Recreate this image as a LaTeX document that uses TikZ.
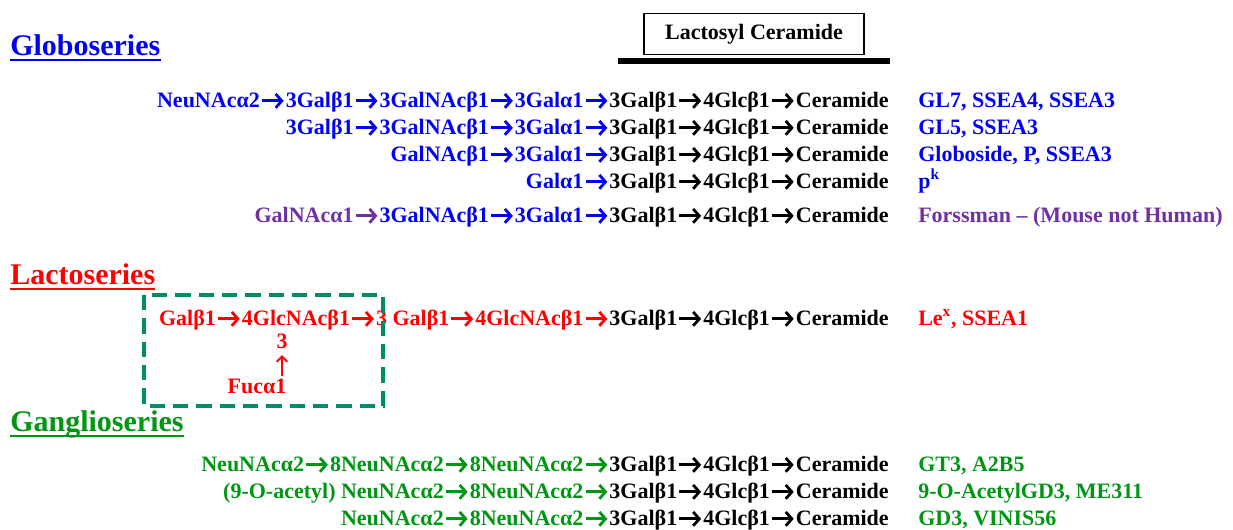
\documentclass[tikz,border=0pt]{standalone}
\usepackage{fontspec}
\setmainfont{Liberation Serif}
\usetikzlibrary{arrows.meta}
\definecolor{gblue}{RGB}{0,0,245}
\definecolor{gpurple}{RGB}{112,48,160}
\definecolor{gred}{RGB}{255,0,0}
\definecolor{ggreen}{RGB}{0,150,20}
\definecolor{gteal}{RGB}{0,140,105}
\newcommand{\ra}{\tikz[baseline=0pt]{\path[use as bounding box] (0pt,0pt) rectangle (19.5pt,1pt);
  \draw[line width=2.1pt, -{Straight Barb[length=4.6pt,width=10.4pt,line width=2.1pt]}] (1.6pt,4.6pt) -- (17.9pt,4.6pt);}}
\tikzset{
  chain/.style={anchor=base east, inner sep=0pt, font=\fontsize{16.5}{18}\selectfont\bfseries},
  lab/.style={anchor=base west, inner sep=0pt, font=\fontsize{16.5}{18}\selectfont\bfseries},
  head/.style={anchor=base west, inner sep=0pt, font=\fontsize{22.5}{24}\selectfont\bfseries},
  uline/.style={line width=1.6pt},
  dashbox/.style={draw=gteal, line width=2.7pt, dash pattern=on 11.5pt off 6pt}
}
\begin{document}
\begin{tikzpicture}[x=0.75pt,y=-0.75pt]
\useasboundingbox (0,0) rectangle (1233,529);
% Lactosyl ceramide box
\node[draw=black, line width=1.2pt, minimum width=165pt, minimum height=31pt, inner sep=0pt,
      font=\fontsize{16.5}{18}\selectfont\bfseries] (lac) at (754,34) {Lactosyl Ceramide};
\coordinate (barL) at (618,61);
\coordinate (barR) at (890,61);
\draw[line width=4pt] (barL) -- (barR);

% Headers
\node[head, text=gblue] (hglobo) at (10,55) {Globoseries};
\draw[uline, gblue] ([yshift=-3.5pt]hglobo.base west) -- ([yshift=-3.5pt]hglobo.base east);
\node[head, text=gred] (hlacto) at (10,284) {Lactoseries};
\draw[uline, gred] ([yshift=-3.5pt]hlacto.base west) -- ([yshift=-3.5pt]hlacto.base east);
\node[head, text=ggreen] (hgang) at (10,431) {Ganglioseries};
\draw[uline, ggreen] ([yshift=-3.5pt]hgang.base west) -- ([yshift=-3.5pt]hgang.base east);

% Globoseries
\node[chain] (g1) at (889,107) {\color{gblue}NeuNAcα2\ra{}3Galβ1\ra{}3GalNAcβ1\ra{}3Galα1\ra{}\color{black}3Galβ1\ra{}4Glcβ1\ra{}Ceramide};
\node[lab, text=gblue] (l1) at (918,107) {GL7, SSEA4, SSEA3};
\node[chain] (g2) at (889,134) {\color{gblue}3Galβ1\ra{}3GalNAcβ1\ra{}3Galα1\ra{}\color{black}3Galβ1\ra{}4Glcβ1\ra{}Ceramide};
\node[lab, text=gblue] (l2) at (918,134) {GL5, SSEA3};
\node[chain] (g3) at (889,161) {\color{gblue}GalNAcβ1\ra{}3Galα1\ra{}\color{black}3Galβ1\ra{}4Glcβ1\ra{}Ceramide};
\node[lab, text=gblue] (l3) at (918,161) {Globoside, P, SSEA3};
\node[chain] (g4) at (889,188) {\color{gblue}Galα1\ra{}\color{black}3Galβ1\ra{}4Glcβ1\ra{}Ceramide};
\node[lab, text=gblue] (l4) at (918,188) {p\textsuperscript{k}};
\node[chain] (g5) at (889,222) {\color{gpurple}GalNAcα1\ra{}\color{gblue}3GalNAcβ1\ra{}3Galα1\ra{}\color{black}3Galβ1\ra{}4Glcβ1\ra{}Ceramide};
\node[lab, text=gpurple] (l5) at (918,222) {Forssman – (Mouse not Human)};

% Lactoseries
\node[chain] (lc) at (889,325) {\color{gred}Galβ1\ra{}4GlcNAcβ1\ra{}3 Galβ1\ra{}4GlcNAcβ1\ra{}\color{black}3Galβ1\ra{}4Glcβ1\ra{}Ceramide};
\node[lab, text=gred] (ll) at (918,325) {Le\textsuperscript{x}, SSEA1};
\node[chain, anchor=base, text=gred] (three) at (282,348) {3};
\node[chain, anchor=base, text=gred] (fuc) at (257,393) {Fucα1};
\draw[gred, line width=1.4pt, -{Straight Barb[length=4pt,width=8pt,line width=1.4pt]}]
  (fuc.north -| three.south) ++(0,-2) -- ([yshift=-5pt]three.south);
\draw[dashbox] (144,295) rectangle (383,406);

% Ganglioseries
\node[chain] (n1) at (889,471) {\color{ggreen}NeuNAcα2\ra{}8NeuNAcα2\ra{}8NeuNAcα2\ra{}\color{black}3Galβ1\ra{}4Glcβ1\ra{}Ceramide};
\node[lab, text=ggreen] (m1) at (918,471) {GT3, A2B5};
\node[chain] (n2) at (889,498) {\color{ggreen}(9-O-acetyl) NeuNAcα2\ra{}8NeuNAcα2\ra{}\color{black}3Galβ1\ra{}4Glcβ1\ra{}Ceramide};
\node[lab, text=ggreen] (m2) at (918,498) {9-O-AcetylGD3, ME311};
\node[chain] (n3) at (889,525) {\color{ggreen}NeuNAcα2\ra{}8NeuNAcα2\ra{}\color{black}3Galβ1\ra{}4Glcβ1\ra{}Ceramide};
\node[lab, text=ggreen] (m3) at (918,525) {GD3, VINIS56};
\end{tikzpicture}
\end{document}
